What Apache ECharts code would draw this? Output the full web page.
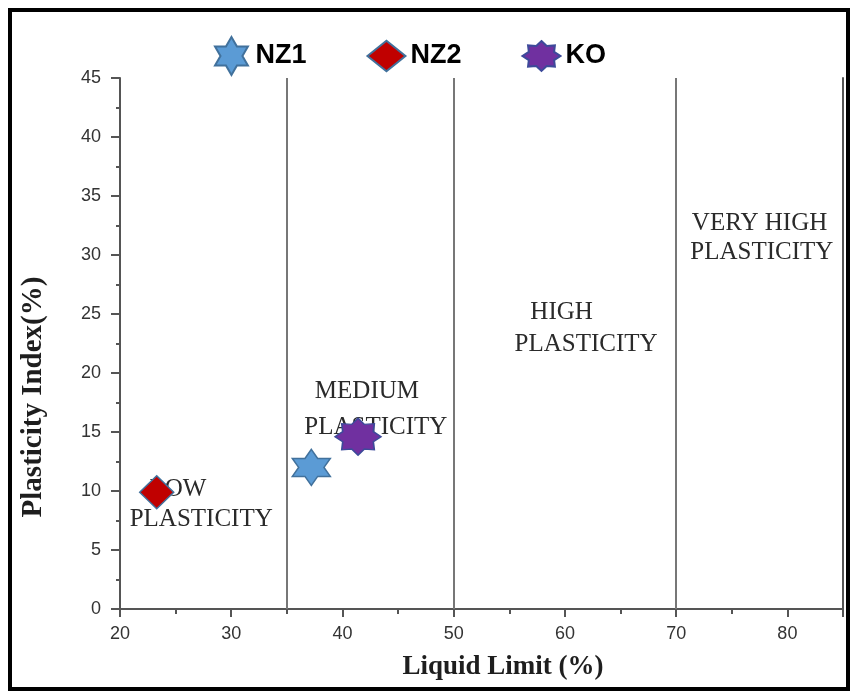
<!DOCTYPE html>
<html>
<head>
<meta charset="utf-8">
<script src="https://cdn.jsdelivr.net/npm/echarts@6/dist/echarts.min.js"></script>
<style>html,body{margin:0;padding:0;background:#fff}#c{width:852px;height:695px}</style>
</head>
<body>
<div id="c"></div>
<script>
// ---- data ----
const seriesNames = ['NZ1', 'NZ2', 'KO'];
const nz1 = [[37.2, 12.0]];
const nz2 = [[23.3, 9.9]];
const ko = [[41.4, 14.6]];
const boundaries = [35, 50, 70];
const xTicks = [20, 30, 40, 50, 60, 70, 80];
const yTicks = [0, 5, 10, 15, 20, 25, 30, 35, 40, 45];
const zoneLines = [
  ['LOW', 25.2, 10.1], ['PLASTICITY', 27.3, 7.6],
  ['MEDIUM', 42.2, 18.4], ['PLASTICITY', 43.0, 15.4],
  ['HIGH', 59.7, 25.1], ['PLASTICITY', 61.9, 22.4],
  ['VERY HIGH', 77.5, 32.7], ['PLASTICITY', 77.7, 30.2]
];

function starPath(n, inner, sx, sy) {
  const pts = [];
  for (let i = 0; i < 2 * n; i++) {
    const a = -Math.PI / 2 + i * Math.PI / n;
    const r = i % 2 ? inner : 1;
    pts.push((r * Math.cos(a) * sx * 100).toFixed(2) + ',' + (r * Math.sin(a) * sy * 100).toFixed(2));
  }
  return 'path://M' + pts.join('L') + 'Z';
}
const star6 = starPath(6, 0.577, 1, 1);
const star8 = starPath(8, 0.72, 1.27, 1);
const diamondPath = 'path://M0,16L20,0L40,16L20,32Z';

const borderCol = '#41719C';
const chart = echarts.init(document.getElementById('c'));
const axisCol = '#555';
const labelStyle = { color: '#333', fontSize: 18, fontFamily: 'Liberation Sans, Arial, sans-serif' };

chart.setOption({
  animation: false,
  backgroundColor: '#fff',
  legend: {
    top: 31, left: 209,
    itemWidth: 38, itemHeight: 38, itemGap: 60,
    textStyle: { fontSize: 27, fontWeight: 'bold', color: '#000', fontFamily: 'Liberation Sans, Arial, sans-serif' },
    data: [
      { name: seriesNames[0], icon: star6 },
      { name: seriesNames[1], icon: diamondPath },
      { name: seriesNames[2], icon: star8 }
    ]
  },
  grid: { left: 120, right: 9, top: 78, bottom: 86 },
  xAxis: [{
    type: 'value', min: xTicks[0], max: 85, interval: 10,
    axisLine: { lineStyle: { color: axisCol, width: 2 } },
    axisTick: { length: 8, lineStyle: { color: axisCol, width: 2 } },
    minorTick: { show: true, splitNumber: 2, length: 5, lineStyle: { color: axisCol, width: 2 } },
    splitLine: { show: false },
    axisLabel: Object.assign({ margin: 16, showMaxLabel: false }, labelStyle)
  }, {
    type: 'value', min: xTicks[0], max: 85, position: 'top',
    axisLine: { lineStyle: { color: axisCol, width: 2 } },
    axisTick: { show: false }, axisLabel: { show: false }, splitLine: { show: false }
  }],
  yAxis: [{
    type: 'value', min: yTicks[0], max: yTicks[yTicks.length - 1], interval: 5,
    axisLine: { show: true, lineStyle: { color: axisCol, width: 2 } },
    axisTick: { show: true, length: 9, lineStyle: { color: axisCol, width: 2 } },
    minorTick: { show: true, splitNumber: 2, length: 4, lineStyle: { color: axisCol, width: 2 } },
    splitLine: { show: false },
    axisLabel: Object.assign({ margin: 19 }, labelStyle)
  }, {
    type: 'value', min: yTicks[0], max: yTicks[yTicks.length - 1], position: 'right',
    axisLine: { show: true, lineStyle: { color: axisCol, width: 2 } },
    axisTick: { show: false }, axisLabel: { show: false }, splitLine: { show: false }
  }],
  series: [
    {
      name: 'zones', type: 'scatter', symbolSize: 0, z: 1, silent: true,
      itemStyle: { opacity: 1 },
      data: zoneLines.map(z => ({ name: z[0], value: [z[1], z[2]] })),
      label: {
        show: true, position: 'inside', formatter: p => p.name,
        color: '#2a2a2a', fontSize: 25, fontFamily: 'Liberation Serif, Times New Roman, serif'
      },
      markLine: {
        silent: true, symbol: 'none', label: { show: false },
        lineStyle: { color: '#777', width: 2, type: 'solid' },
        data: boundaries.map(b => ({ xAxis: b }))
      }
    },
    {
      name: seriesNames[0], type: 'scatter', z: 5, data: nz1,
      symbol: star6, symbolSize: [38, 36],
      itemStyle: { color: '#5B9BD5', borderColor: borderCol, borderWidth: 1.5, opacity: 1 }
    },
    {
      name: seriesNames[1], type: 'scatter', z: 5, data: nz2,
      symbol: diamondPath, symbolSize: [34, 33],
      itemStyle: { color: '#C00000', borderColor: borderCol, borderWidth: 1.5, opacity: 1 }
    },
    {
      name: seriesNames[2], type: 'scatter', z: 5, data: ko,
      symbol: star8, symbolSize: [46, 37],
      itemStyle: { color: '#7030A0', borderColor: '#3D4A9A', borderWidth: 1.5, opacity: 1 }
    }
  ],
  graphic: [
    { type: 'rect', shape: { x: 10, y: 10, width: 838, height: 679 },
      style: { fill: 'none', stroke: '#000', lineWidth: 4 }, z: 100 },
    { type: 'text', x: 503, y: 667, z: 100,
      style: { text: 'Liquid Limit (%)', textAlign: 'center', textVerticalAlign: 'middle',
        font: 'bold 27px "Liberation Serif", "Times New Roman", serif', fill: '#1e1e1e' } },
    { type: 'text', x: 34, y: 397, rotation: Math.PI / 2, z: 100,
      style: { text: 'Plasticity Index(%)', textAlign: 'center', textVerticalAlign: 'middle',
        font: 'bold 29px "Liberation Serif", "Times New Roman", serif', fill: '#1e1e1e' } }
  ]
});
</script>
</body>
</html>
